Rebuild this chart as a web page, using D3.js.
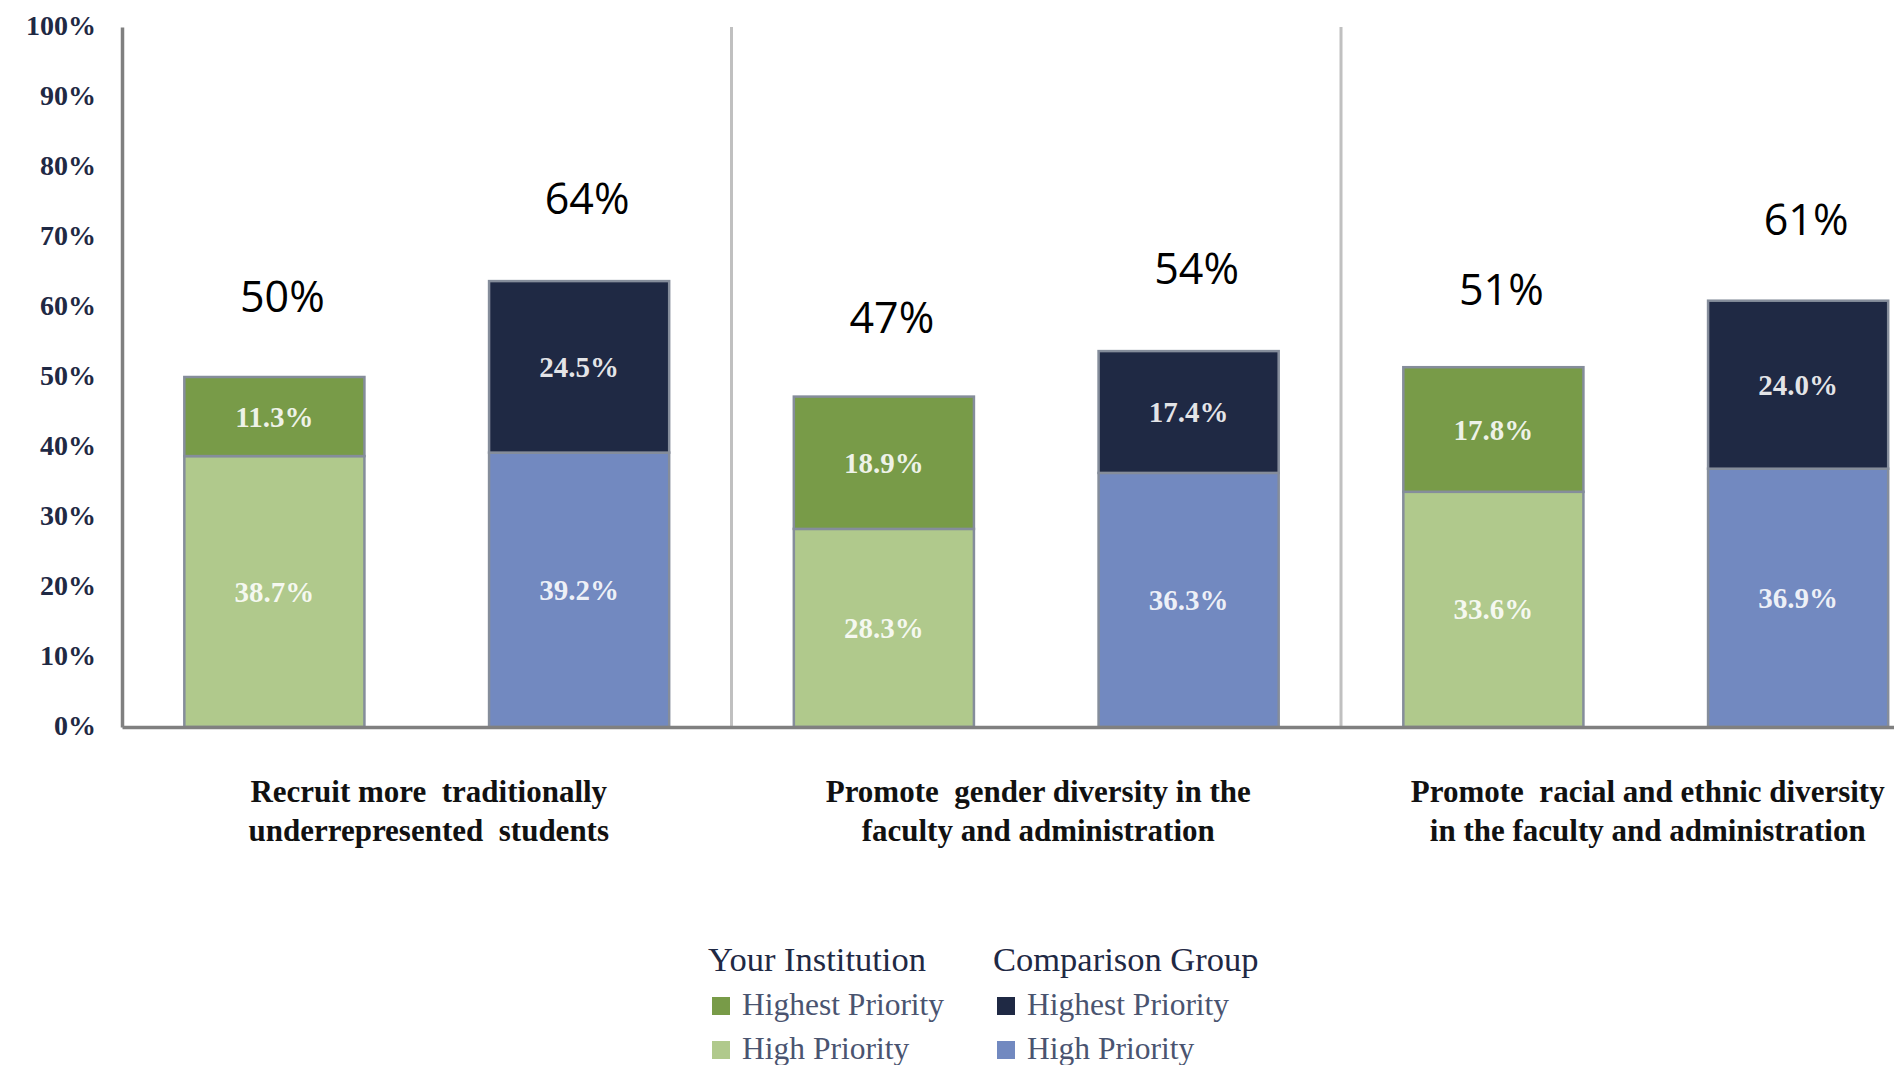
<!DOCTYPE html>
<html><head><meta charset="utf-8">
<script src="https://cdn.jsdelivr.net/npm/d3@7/dist/d3.min.js"></script>
<style>body{margin:0;background:#fff;overflow:hidden}</style>
</head><body>
<svg id="chart" width="1894" height="1065"></svg>
<script>
// ---- data ----
const categories = ["Recruit", "Gender", "Racial"];
const categoryLabels = [
  ["Recruit more  traditionally", "underrepresented  students"],
  ["Promote  gender diversity in the", "faculty and administration"],
  ["Promote  racial and ethnic diversity", "in the faculty and administration"]
];
const groups = ["Your Institution", "Comparison Group"];
const yourHigh = [38.7, 28.3, 33.6];
const yourHighest = [11.3, 18.9, 17.8];
const compHigh = [39.2, 36.3, 36.9];
const compHighest = [24.5, 17.4, 24.0];
const yourTotals = [50, 47, 51];
const compTotals = [64, 54, 61];
const yTicks = [0, 10, 20, 30, 40, 50, 60, 70, 80, 90, 100];
const legendItems = ["Highest Priority", "High Priority"];

// ---- styles ----
const colors = {
  "Your Institution": {highest: "#789b48", high: "#b0c98c"},
  "Comparison Group": {highest: "#1f2944", high: "#7289c0"}
};

const svg = d3.select("#chart");
const x0 = d3.scaleBand().domain(categories).range([122, 1950.5]).padding(0);
const x1 = d3.scaleBand().domain(groups).range([0, x0.bandwidth()])
  .paddingInner(0.409).paddingOuter(0.2045);
const y = d3.scaleLinear().domain([0, 100]).range([727, 27]);

// dividers
svg.append("g").selectAll("line")
  .data(categories.slice(1))
  .join("line")
  .attr("x1", d => x0(d)).attr("x2", d => x0(d))
  .attr("y1", y(100)).attr("y2", y(0))
  .attr("stroke", "#c0c0c0").attr("stroke-width", 3);

// build stacked rows
const rows = [];
categories.forEach((c, i) => {
  rows.push({cat: c, grp: groups[0], high: yourHigh[i], highest: yourHighest[i], total: yourTotals[i]});
  rows.push({cat: c, grp: groups[1], high: compHigh[i], highest: compHighest[i], total: compTotals[i]});
});

const barG = svg.append("g");
rows.forEach(r => {
  const bx = x0(r.cat) + x1(r.grp);
  const bw = x1.bandwidth();
  const g = barG.append("g");
  g.append("rect")
    .attr("x", bx).attr("width", bw)
    .attr("y", y(r.high)).attr("height", y(0) - y(r.high))
    .attr("fill", colors[r.grp].high)
    .attr("stroke", "#858d9b").attr("stroke-width", 2.5);
  g.append("rect")
    .attr("x", bx).attr("width", bw)
    .attr("y", y(r.high + r.highest)).attr("height", y(r.high) - y(r.high + r.highest))
    .attr("fill", colors[r.grp].highest)
    .attr("stroke", "#858d9b").attr("stroke-width", 2.5);
  [[r.high / 2, r.high], [r.high + r.highest / 2, r.highest]].forEach(([mid, v]) => {
    g.append("text")
      .attr("x", bx + bw / 2).attr("y", y(mid) + 10)
      .attr("text-anchor", "middle")
      .attr("font-family", "Liberation Serif").attr("font-weight", "bold").attr("font-size", 29)
      .attr("fill", "#ffffff").attr("fill-opacity", 0.88)
      .text(v.toFixed(1) + "%");
  });
  g.append("text")
    .attr("x", bx + bw / 2 + 8).attr("y", y(r.total + 11.5) + 15)
    .attr("text-anchor", "middle")
    .attr("font-family", "Open Sans").attr("font-size", 43)
    .attr("fill", "#000")
    .text(r.total + "%");
});

// axes
const yAxis = d3.axisLeft(y).tickValues(yTicks).tickSize(0).tickPadding(26)
  .tickFormat(d => d + "%");
const yg = svg.append("g").attr("transform", "translate(122,0)").call(yAxis);
yg.select(".domain").attr("stroke", "#808080").attr("stroke-width", 3.5);
yg.selectAll("text")
  .attr("font-family", "Liberation Serif").attr("font-weight", "bold").attr("font-size", 28)
  .attr("fill", "#1f2944").attr("dy", "0.25em");

const xAxis = d3.axisBottom(x0).tickSize(0).tickFormat("");
const xg = svg.append("g").attr("transform", `translate(0,${y(0)})`).call(xAxis);
xg.select(".domain").attr("stroke", "#808080").attr("stroke-width", 3.5);

// category labels
const catG = svg.append("g");
categories.forEach((c, i) => {
  const cx = x0(c) + x0.bandwidth() / 2 + 2;
  const t = catG.append("text")
    .attr("x", cx).attr("y", 802)
    .attr("text-anchor", "middle")
    .attr("font-family", "Liberation Serif").attr("font-weight", "bold")
    .attr("font-size", 31).attr("fill", "#111")
    .style("white-space", "pre");
  categoryLabels[i].forEach((line, j) => {
    t.append("tspan").attr("x", cx).attr("dy", j === 0 ? 0 : 39).text(line);
  });
});

// legend
const legendX = [708, 993];
const legendG = svg.append("g");
groups.forEach((g, gi) => {
  legendG.append("text")
    .attr("x", legendX[gi]).attr("y", 971)
    .attr("font-family", "Liberation Serif").attr("font-size", 34.5)
    .attr("fill", "#1f2944").text(g);
  legendItems.forEach((item, ii) => {
    const key = ii === 0 ? "highest" : "high";
    legendG.append("rect")
      .attr("x", legendX[gi] + 4).attr("y", 997 + ii * 44)
      .attr("width", 18).attr("height", 18)
      .attr("fill", colors[g][key]);
    legendG.append("text")
      .attr("x", legendX[gi] + 34).attr("y", 1015 + ii * 44)
      .attr("font-family", "Liberation Serif").attr("font-size", 31.5)
      .attr("fill", "#4a5470").text(item);
  });
});
</script>
</body></html>
